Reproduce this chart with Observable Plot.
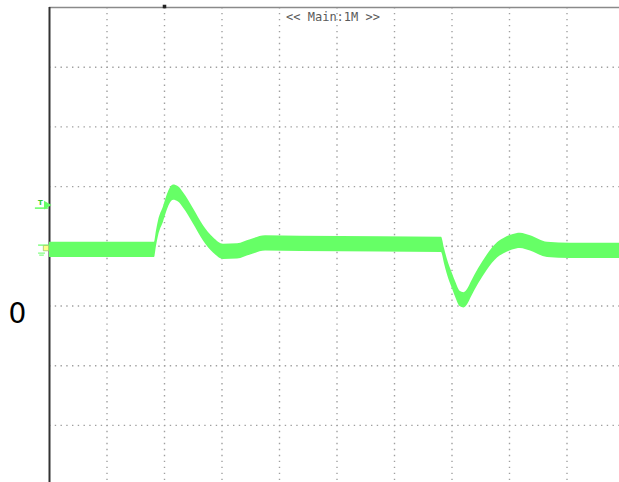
<!DOCTYPE html>
<html>
<head>
<meta charset="utf-8">
<script src="https://cdn.jsdelivr.net/npm/d3@7"></script>
<script src="https://cdn.jsdelivr.net/npm/@observablehq/plot@0.6"></script>
<style>
  html, body { margin: 0; padding: 0; background: #fff; }
  #chart svg { display: block; overflow: visible; }
</style>
</head>
<body>
<div id="chart"></div>
<script>
// Time in horizontal divisions, trace level in vertical divisions (centre of noisy band)
const traceT = [0, 1.826, 1.861, 1.896, 1.983, 2.070, 2.157, 2.243, 2.330, 2.504, 2.678, 2.852, 3.026, 3.270, 3.496, 3.757, 4.365, 5.757, 6.817, 6.870, 6.922, 7.009, 7.070, 7.139, 7.209, 7.278, 7.339, 7.461, 7.617, 7.791, 7.896, 8.052, 8.191, 8.365, 8.661, 9.061, 9.913];
const traceV = [-0.059, -0.059, 0.134, 0.302, 0.536, 0.787, 0.900, 0.871, 0.771, 0.503, 0.218, 0.017, -0.092, -0.084, -0.017, 0.050, 0.042, 0.034, 0.025, -0.168, -0.352, -0.586, -0.740, -0.880, -0.905, -0.840, -0.720, -0.503, -0.268, -0.067, 0, 0.067, 0.092, 0.050, -0.059, -0.075, -0.075];
const noiseHalf = 0.128;            // half height of the noise band (divisions)
const gridX = [1, 2, 3, 4, 5, 6, 7, 8, 9];
const gridY = [-3, -2, -1, 0, 1, 2, 3];
const headerLabel = ["<< Main:1M >>"];
const channelLabel = ["0"];
const channelLabelLevel = -1.13;
const triggerLevel = 0.69;
const groundLevel = -0.03;

const trace = traceT.map((t, i) => ({t, v: traceV[i]}));
const green = "#66ff66";

const chart = Plot.plot({
  width: 619,
  height: 482,
  marginLeft: 49,
  marginRight: 0,
  marginTop: 7,
  marginBottom: 0,
  x: {domain: [0, 9.913], axis: null},
  y: {domain: [-3.956, 4], axis: null},
  style: {background: "#fff"},
  marks: [
    Plot.ruleX(gridX, {x: d => d, stroke: "#a0a0a0", strokeWidth: 1.4, strokeDasharray: "1.4,4.57"}),
    Plot.ruleY(gridY, {y: d => d, stroke: "#a0a0a0", strokeWidth: 1.4, strokeDasharray: "1.4,4.35"}),
    Plot.ruleY([4], {stroke: "#8a8a8a", strokeWidth: 1.5}),
    Plot.dot([2], {x: d => d, y: 4, symbol: "square", r: 2, fill: "#222", stroke: null, dy: -1}),
    Plot.ruleX([0], {stroke: "#333", strokeWidth: 2}),
    Plot.areaY(trace, {x: "t", y1: d => d.v - noiseHalf, y2: d => d.v + noiseHalf, fill: green, curve: "monotone-x"}),
    Plot.text(headerLabel, {x: 5, y: 4, text: d => d, dy: 10, dx: -4, fontFamily: "DejaVu Sans Mono", fontSize: 12, fill: "#5a5a5a"}),
    Plot.text(channelLabel, {x: 0, y: channelLabelLevel, text: d => d, dx: -32, fontFamily: "DejaVu Sans", fontSize: 28, fill: "#000"}),
    // trigger marker
    Plot.text(["T"], {x: 0, y: triggerLevel, text: d => d, dx: -9, dy: -2, fontFamily: "DejaVu Sans", fontWeight: "bold", fontSize: 7, fill: "#33cc33"}),
    Plot.dot([triggerLevel], {x: 0, y: d => d, dx: -3, dy: 0, symbol: "triangle", rotate: 90, r: 3.2, fill: green, stroke: null}),
    Plot.ruleY([triggerLevel], {y: d => d, x1: -0.245, x2: -0.02, dy: 3, stroke: green, strokeWidth: 1.5}),
    // ground marker
    Plot.ruleY([groundLevel], {y: d => d, x1: -0.19, x2: 0, dy: -3, stroke: green, strokeWidth: 1.2}),
    Plot.dot([groundLevel], {x: 0, y: d => d, dx: -3.5, symbol: "square", r: 3, fill: "#ffff88", stroke: "#99cc66", strokeWidth: 0.8}),
    Plot.ruleY([groundLevel], {y: d => d, x1: -0.19, x2: -0.07, dy: 5, stroke: green, strokeWidth: 1}),
    Plot.ruleY([groundLevel], {y: d => d, x1: -0.17, x2: -0.09, dy: 7, stroke: green, strokeWidth: 1})
  ]
});
document.getElementById("chart").append(chart);
</script>
</body>
</html>
